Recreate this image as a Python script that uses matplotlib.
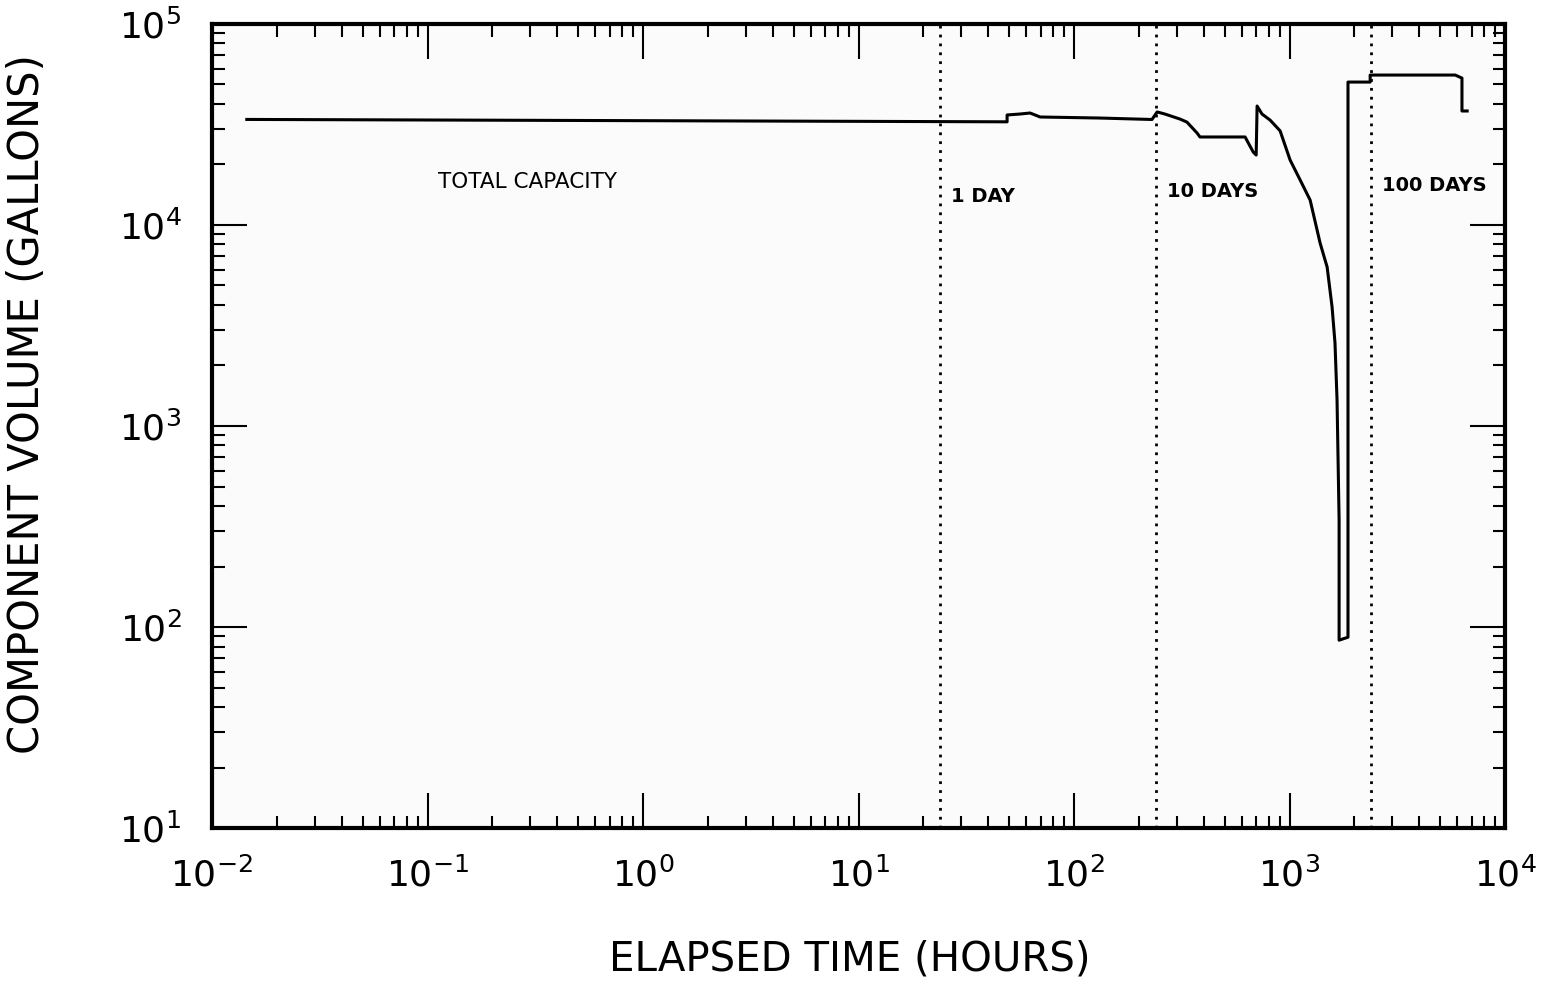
import numpy as np
import matplotlib
matplotlib.use("Agg")
import matplotlib.pyplot as plt
from matplotlib.ticker import FixedLocator, FixedFormatter, LogLocator, NullFormatter

# Component volume history (hours, gallons)
time_hours = [0.0145, 48.9, 48.9, 56.1, 62.5, 69.6, 132, 230, 243, 264, 310, 334,
              372, 384, 622, 678, 700, 707, 745, 812, 904, 1006, 1120, 1246,
              1386, 1494, 1575, 1625, 1661, 1698, 1698, 1867, 1867, 2366, 2366,
              5870, 6310, 6310, 6670]
volume_gal = [33500, 32600, 35260, 35640, 36060, 34450, 34040, 33480, 36500, 35640,
              33650, 32500, 28700, 27400, 27400, 23070, 22280, 39070, 35640, 33260,
              29400, 21040, 16740, 13300, 8130, 6180, 3910, 2590, 1347, 340, 86,
              89, 51400, 51400, 55700, 55700, 53800, 36900, 36900]

# Reference markers
marker_times = [24, 240, 2400]
marker_labels = ["1 DAY", "10 DAYS", "100 DAYS"]
marker_label_y = [13900, 14750, 15630]

x_decades = [-2, -1, 0, 1, 2, 3, 4]
y_decades = [1, 2, 3, 4, 5]

fig = plt.figure(figsize=(15.59, 9.86), dpi=100)
ax = fig.add_axes([0.136, 0.1602, 0.8294, 0.8155])
ax.set_facecolor("#fbfbfb")

ax.plot(time_hours, volume_gal, color="black", lw=2.2, solid_joinstyle="round")

for t, lab, ly in zip(marker_times, marker_labels, marker_label_y):
    ax.axvline(t, color="black", lw=2, ls=(0, (1, 2.2)))
    ax.text(t * 1.12, ly, lab, fontsize=14, fontweight="bold", va="center", ha="left")

ax.text(0.112, 16400, "TOTAL CAPACITY", fontsize=15.5, va="center", ha="left")

ax.set_xscale("log")
ax.set_yscale("log")
ax.set_xlim(1e-2, 1e4)
ax.set_ylim(1e1, 1e5)

ax.xaxis.set_major_locator(FixedLocator([10.0 ** d for d in x_decades]))
ax.xaxis.set_major_formatter(FixedFormatter([r"$\mathregular{10^{%d}}$" % d for d in x_decades]))
ax.yaxis.set_major_locator(FixedLocator([10.0 ** d for d in y_decades]))
ax.yaxis.set_major_formatter(FixedFormatter([r"$\mathregular{10^{%d}}$" % d for d in y_decades]))
ax.xaxis.set_minor_locator(LogLocator(base=10, subs=np.arange(2, 10), numticks=20))
ax.yaxis.set_minor_locator(LogLocator(base=10, subs=np.arange(2, 10), numticks=20))
ax.xaxis.set_minor_formatter(NullFormatter())
ax.yaxis.set_minor_formatter(NullFormatter())

ax.tick_params(which="major", direction="in", length=25, width=1.5,
               top=True, right=True, labelsize=26, pad=21)
ax.tick_params(which="minor", direction="in", length=9, width=1.5,
               top=True, right=True)
ax.tick_params(axis="y", which="major", pad=22)

for s in ax.spines.values():
    s.set_linewidth(3)

ax.set_xlabel("ELAPSED TIME (HOURS)", fontsize=29, va="center")
ax.set_ylabel("COMPONENT VOLUME (GALLONS)", fontsize=30)
ax.xaxis.set_label_coords(0.493, -0.163)
ax.yaxis.set_label_coords(-0.127, 0.527)

fig.savefig("out.png", dpi=100, facecolor="white")
